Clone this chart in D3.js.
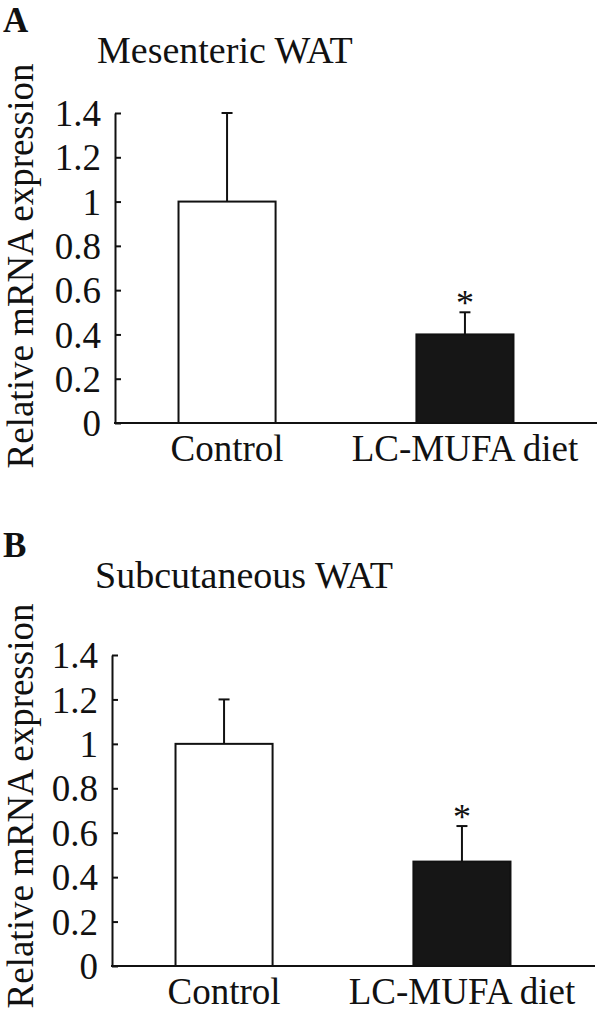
<!DOCTYPE html>
<html>
<head>
<meta charset="utf-8">
<script src="https://cdn.jsdelivr.net/npm/d3@7"></script>
<style>
  html, body { margin: 0; padding: 0; background: #fff; }
  svg text { font-family: "Liberation Serif", "Times New Roman", serif; fill: #111; }
</style>
</head>
<body>
<div id="chart"></div>
<script>
// values
var groups = ["Control", "LC-MUFA diet"];
var mesMeans = [1.0, 0.40];
var mesErr = [0.40, 0.10];
var subMeans = [1.0, 0.47];
var subErr = [0.20, 0.16];
var signif = [false, true];
var yTicks = [0, 0.2, 0.4, 0.6, 0.8, 1, 1.2, 1.4];
var yTickLabels = ["0", "0.2", "0.4", "0.6", "0.8", "1", "1.2", "1.4"];
var yLabel = "Relative mRNA expression";

var width = 600, height = 1015;

var svg = d3.select("#chart").append("svg")
  .attr("width", width)
  .attr("height", height);

// panel layout (pixel positions of the frame)
var panels = [
  {letter: "A", title: "Mesenteric WAT", means: mesMeans, err: mesErr,
   left: 115, right: 597, top: 113, bottom: 423, barsEnd: 577,
   letterY: 32, titleX: 97, titleY: 63, labelY: 266},
  {letter: "B", title: "Subcutaneous WAT", means: subMeans, err: subErr,
   left: 112, right: 595, top: 655, bottom: 966, barsEnd: 574,
   letterY: 557, titleX: 95, titleY: 588, labelY: 806}
];

panels.forEach(function(p) {
  drawPanel(p);
});

function drawPanel(p) {
  var g = svg.append("g");

  var y = d3.scaleLinear().domain([0, 1.4]).range([p.bottom, p.top]);
  var x = d3.scaleBand().domain(groups)
    .range([p.left, p.barsEnd])
    .paddingInner(0.592)
    .paddingOuter(0.267);

  // panel letter
  g.append("text")
    .attr("x", 3)
    .attr("y", p.letterY)
    .style("font-size", "35px")
    .style("font-weight", "bold")
    .text(p.letter);

  // title
  g.append("text")
    .attr("x", p.titleX)
    .attr("y", p.titleY)
    .style("font-size", "38px")
    .text(p.title);

  // y axis label
  g.append("text")
    .attr("transform", "translate(33," + p.labelY + ") rotate(-90)")
    .attr("text-anchor", "middle")
    .style("font-size", "37px")
    .text(yLabel);

  // y axis, ticks pointing inwards
  var yAxis = d3.axisLeft(y)
    .tickValues(yTicks)
    .tickFormat(function(d, i) { return yTickLabels[i]; })
    .tickSizeInner(-6)
    .tickSizeOuter(0)
    .tickPadding(14);

  var ya = g.append("g")
    .attr("transform", "translate(" + p.left + ",0)")
    .call(yAxis);
  ya.select(".domain").attr("stroke", "#111").attr("stroke-width", 2);
  ya.selectAll(".tick line").attr("stroke", "#111").attr("stroke-width", 2);
  ya.selectAll(".tick text")
    .attr("dy", "0.34em")
    .style("font-size", "37px")
    .style("font-family", "'Liberation Serif', 'Times New Roman', serif")
    .attr("fill", "#111");

  // bars
  g.selectAll(".bar")
    .data(groups)
    .enter()
    .append("rect")
    .attr("class", "bar")
    .attr("x", function(d) { return x(d); })
    .attr("width", x.bandwidth())
    .attr("y", function(d, i) { return y(p.means[i]); })
    .attr("height", function(d, i) { return y(0) - y(p.means[i]); })
    .attr("fill", function(d, i) { return i == 0 ? "#fff" : "#161616"; })
    .attr("stroke", "#111")
    .attr("stroke-width", 2);

  // error bars (upper only)
  var capW = 11;
  groups.forEach(function(d, i) {
    var cx = x(d) + x.bandwidth() / 2;
    var yTop = y(p.means[i] + p.err[i]);
    g.append("line")
      .attr("x1", cx).attr("x2", cx)
      .attr("y1", y(p.means[i])).attr("y2", yTop)
      .attr("stroke", "#111").attr("stroke-width", 2);
    g.append("line")
      .attr("x1", cx - capW / 2).attr("x2", cx + capW / 2)
      .attr("y1", yTop).attr("y2", yTop)
      .attr("stroke", "#111").attr("stroke-width", 2);
    if (signif[i]) {
      g.append("text")
        .attr("x", cx)
        .attr("y", yTop + 3)
        .attr("text-anchor", "middle")
        .style("font-size", "36px")
        .text("*");
    }
  });

  // x axis baseline
  g.append("line")
    .attr("x1", p.left - 1).attr("x2", p.right)
    .attr("y1", y(0)).attr("y2", y(0))
    .attr("stroke", "#111").attr("stroke-width", 2);

  var xa = g.append("g")
    .attr("transform", "translate(0," + y(0) + ")")
    .call(d3.axisBottom(x).tickSize(0).tickPadding(12));
  xa.select(".domain").remove();
  xa.selectAll(".tick text")
    .style("font-size", "37px")
    .style("font-family", "'Liberation Serif', 'Times New Roman', serif")
    .attr("fill", "#111");
}
</script>
</body>
</html>
